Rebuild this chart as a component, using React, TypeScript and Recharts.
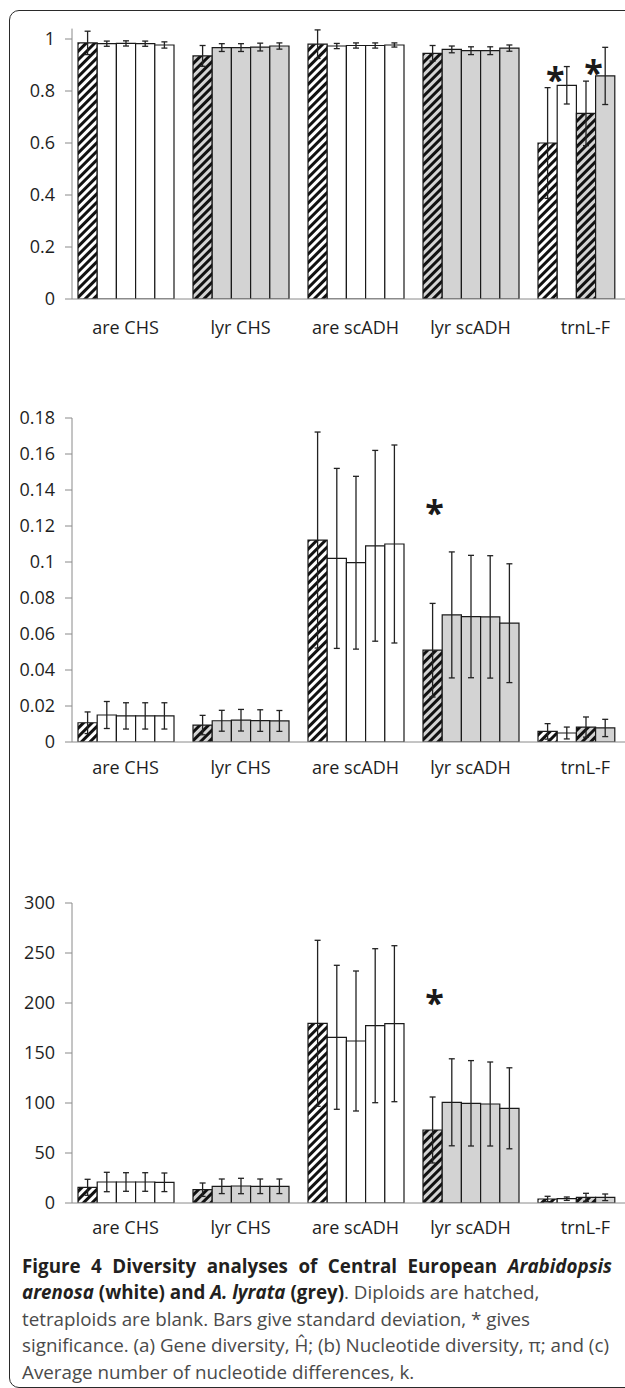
import React from 'react';
import { BarChart, Bar, XAxis, YAxis, ErrorBar, Cell, LabelList } from 'recharts';

type Num = number | null;

const CATEGORIES = ['are CHS', 'lyr CHS', 'are scADH', 'lyr scADH', 'trnL-F'];

// species of each bar slot per category (are = white, lyr = grey)
const SPECIES = [
  ['are', 'are', 'are', 'are', 'are'],
  ['lyr', 'lyr', 'lyr', 'lyr', 'lyr'],
  ['are', 'are', 'are', 'are', 'are'],
  ['lyr', 'lyr', 'lyr', 'lyr', 'lyr'],
  ['are', 'are', 'lyr', 'lyr', ''],
];
// diploid slots are drawn hatched
const DIPLOID = [
  [1, 0, 0, 0, 0],
  [1, 0, 0, 0, 0],
  [1, 0, 0, 0, 0],
  [1, 0, 0, 0, 0],
  [1, 0, 1, 0, 0],
];

// (a) gene diversity
const H1: Num[] = [0.985, 0.935, 0.98, 0.945, 0.6];
const H2: Num[] = [0.982, 0.967, 0.973, 0.96, 0.822];
const H3: Num[] = [0.983, 0.967, 0.975, 0.955, 0.714];
const H4: Num[] = [0.982, 0.969, 0.975, 0.955, 0.858];
const H5: Num[] = [0.977, 0.973, 0.977, 0.965, null];
const H_SD1: Num[] = [0.045, 0.04, 0.055, 0.03, 0.213];
const H_SD2: Num[] = [0.01, 0.015, 0.01, 0.013, 0.072];
const H_SD3: Num[] = [0.01, 0.015, 0.01, 0.015, 0.124];
const H_SD4: Num[] = [0.01, 0.015, 0.01, 0.015, 0.11];
const H_SD5: Num[] = [0.012, 0.012, 0.008, 0.012, null];
const H_STAR1: Num[] = [null, null, null, null, 0.86];
const H_STAR3: Num[] = [null, null, null, null, 0.89];

// (b) nucleotide diversity
const P1: Num[] = [0.0107, 0.0094, 0.1122, 0.051, 0.0059];
const P2: Num[] = [0.015, 0.0118, 0.102, 0.0706, 0.005];
const P3: Num[] = [0.0145, 0.0121, 0.0996, 0.0697, 0.0083];
const P4: Num[] = [0.0145, 0.0119, 0.109, 0.0695, 0.0078];
const P5: Num[] = [0.0145, 0.0117, 0.11, 0.066, null];
const P_SD1: Num[] = [0.006, 0.0054, 0.06, 0.026, 0.0043];
const P_SD2: Num[] = [0.0075, 0.0058, 0.05, 0.035, 0.0033];
const P_SD3: Num[] = [0.0073, 0.006, 0.048, 0.034, 0.0056];
const P_SD4: Num[] = [0.0073, 0.006, 0.053, 0.034, 0.0048];
const P_SD5: Num[] = [0.0073, 0.0058, 0.055, 0.033, null];
const P_STAR1: Num[] = [null, null, null, 0.13, null];

// (c) average number of nucleotide differences
const K1: Num[] = [15.7, 13.3, 179.7, 73, 4];
const K2: Num[] = [21, 16.7, 165.7, 100.7, 4.3];
const K3: Num[] = [21, 17, 162, 99.7, 5.7];
const K4: Num[] = [21, 16.7, 177.3, 99, 5.7];
const K5: Num[] = [20.7, 16.7, 179.3, 94.7, null];
const K_SD1: Num[] = [8, 6.7, 83, 33, 2.7];
const K_SD2: Num[] = [9.7, 7.3, 72, 43.5, 1.7];
const K_SD3: Num[] = [9.3, 7.7, 70, 42.7, 4];
const K_SD4: Num[] = [9.3, 7.3, 77, 42, 3.3];
const K_SD5: Num[] = [9.3, 7.3, 78, 40.5, null];
const K_STAR1: Num[] = [null, null, null, 205, null];

const NO_STAR: Num[] = [null, null, null, null, null];

const H_TICKS = [0, 0.2, 0.4, 0.6, 0.8, 1];
const P_TICKS = [0, 0.02, 0.04, 0.06, 0.08, 0.1, 0.12, 0.14, 0.16, 0.18];
const K_TICKS = [0, 50, 100, 150, 200, 250, 300];

const GREY = '#d3d3d3';
const AXIS = '#8a8a8a';
const FONT = '"Open Sans", sans-serif';
const XAXIS_H = 30;
const TICK_FONT = 18;

function buildRows(vals: Num[][], sds: Num[][], stars: Num[][]) {
  return CATEGORIES.map((cat, i) => {
    const row: Record<string, any> = { cat };
    vals.forEach((v, s) => {
      row[`v${s}`] = v[i];
      row[`e${s}`] = sds[s][i];
      row[`st${s}`] = stars[s][i];
    });
    return row;
  });
}

function fillFor(id: string, cat: number, slot: number) {
  const sp = SPECIES[cat][slot];
  const hatched = DIPLOID[cat][slot] === 1;
  if (sp === 'lyr') return hatched ? `url(#${id}-hl)` : GREY;
  return hatched ? `url(#${id}-ha)` : '#ffffff';
}

interface PanelProps {
  id: string;
  top: number;
  height: number;
  plotTop: number;
  plotBottom: number;
  vals: Num[][];
  sds: Num[][];
  stars: Num[][];
  domain: [number, number];
  ticks: number[];
  labelGap: number;
  starAtEdge?: boolean;
}

function Panel({ id, top, height, plotTop, plotBottom, vals, sds, stars, domain, ticks, labelGap, starAtEdge }: PanelProps) {
  const rows = buildRows(vals, sds, stars);

  const starRenderer = (s: number) => (props: any) => {
    const idx = props.index;
    const star = stars[s][idx];
    const val = vals[s][idx];
    if (star == null || val == null) return null;
    const vb = props.viewBox ?? props;
    const { x, y, width, height: h } = vb;
    const base = y + h;
    const sy = base - (star / val) * h;
    const cx = starAtEdge ? x + width - 2 : x + width / 2 + 2;
    return (
      <text key={`star-${s}-${idx}`} x={cx} y={sy + 17} textAnchor="middle" fontSize={34} fontWeight={700} fontFamily={FONT} fill="#1a1a1a">
        *
      </text>
    );
  };

  return (
    <div style={{ position: 'absolute', left: 0, top }}>
      <BarChart
        width={645}
        height={height}
        data={rows}
        margin={{ top: plotTop, right: 2, bottom: height - plotBottom - XAXIS_H, left: 0 }}
        barGap={0}
        barSize={19.2}
      >
        <defs>
          <pattern id={`${id}-ha`} patternUnits="userSpaceOnUse" width={6} height={6} patternTransform="rotate(45)">
            <rect width={6} height={6} fill="#ffffff" />
            <rect width={3} height={6} fill="#111111" />
          </pattern>
          <pattern id={`${id}-hl`} patternUnits="userSpaceOnUse" width={6} height={6} patternTransform="rotate(45)">
            <rect width={6} height={6} fill={GREY} />
            <rect width={3} height={6} fill="#111111" />
          </pattern>
        </defs>
        <XAxis
          dataKey="cat"
          height={XAXIS_H}
          interval={0}
          axisLine={{ stroke: AXIS }}
          tickLine={false}
          tickSize={0}
          tickMargin={labelGap}
          padding={{ left: -4, right: 0 }}
          tick={{ fontSize: TICK_FONT, fill: '#1e1e1e', fontFamily: FONT }}
        />
        <YAxis
          width={72}
          domain={domain}
          ticks={ticks}
          allowDataOverflow
          axisLine={{ stroke: AXIS }}
          tickLine={{ stroke: AXIS }}
          tickSize={7}
          tickMargin={10}
          tick={{ fontSize: TICK_FONT, fill: '#1e1e1e', fontFamily: FONT }}
        />
        {[0, 1, 2, 3, 4].map((s) => (
          <Bar key={s} dataKey={`v${s}`} stroke="#1a1a1a" strokeWidth={1.2} isAnimationActive={false}>
            {rows.map((_, i) => (
              <Cell key={i} fill={fillFor(id, i, s)} />
            ))}
            <ErrorBar dataKey={`e${s}`} width={3} stroke="#222" strokeWidth={1.3} isAnimationActive={false} />
            {stars[s].some((v) => v != null) && <LabelList dataKey={`st${s}`} content={starRenderer(s)} />}
          </Bar>
        ))}
      </BarChart>
    </div>
  );
}

function Caption() {
  const bold: React.CSSProperties = { fontWeight: 700, color: '#231f20' };
  const line: React.CSSProperties = { whiteSpace: 'nowrap' };
  return (
    <div
      style={{
        position: 'absolute',
        left: 22,
        top: 1253,
        width: 590,
        fontFamily: FONT,
        fontSize: 18.8,
        lineHeight: '26.4px',
        color: '#4a4a4a',
      }}
    >
      <div style={{ ...bold, ...line, textAlign: 'justify', textAlignLast: 'justify' }}>
        Figure 4 Diversity analyses of Central European <i>Arabidopsis</i>
      </div>
      <div style={line}>
        <span style={bold}>
          <i>arenosa</i> (white) and <i>A. lyrata</i> (grey)
        </span>
        . Diploids are hatched,
      </div>
      <div style={line}>tetraploids are blank. Bars give standard deviation, * gives</div>
      <div style={line}>significance. (a) Gene diversity, Ĥ; (b) Nucleotide diversity, π; and (c)</div>
      <div style={line}>Average number of nucleotide differences, k.</div>
    </div>
  );
}

export default function App() {
  return (
    <div style={{ position: 'fixed', left: 0, top: 0, width: 625, height: 1388, overflow: 'hidden', background: '#fff' }}>
      <div
        style={{
          position: 'absolute',
          left: 9,
          top: 10,
          width: 700,
          height: 1376,
          border: '1.6px solid #2a2a2a',
          borderRadius: 10,
        }}
      />
      <Panel
        id="gd"
        top={0}
        height={345}
        plotTop={28.6}
        plotBottom={299}
        vals={[H1, H2, H3, H4, H5]}
        sds={[H_SD1, H_SD2, H_SD3, H_SD4, H_SD5]}
        stars={[H_STAR1, NO_STAR, H_STAR3, NO_STAR, NO_STAR]}
        domain={[0, 1.04]}
        ticks={H_TICKS}
        labelGap={22}
        starAtEdge
      />
      <Panel
        id="nd"
        top={380}
        height={408}
        plotTop={38}
        plotBottom={362}
        vals={[P1, P2, P3, P4, P5]}
        sds={[P_SD1, P_SD2, P_SD3, P_SD4, P_SD5]}
        stars={[P_STAR1, NO_STAR, NO_STAR, NO_STAR, NO_STAR]}
        domain={[0, 0.18]}
        ticks={P_TICKS}
        labelGap={19}
      />
      <Panel
        id="nk"
        top={860}
        height={390}
        plotTop={43}
        plotBottom={343}
        vals={[K1, K2, K3, K4, K5]}
        sds={[K_SD1, K_SD2, K_SD3, K_SD4, K_SD5]}
        stars={[K_STAR1, NO_STAR, NO_STAR, NO_STAR, NO_STAR]}
        domain={[0, 300]}
        ticks={K_TICKS}
        labelGap={18}
      />
      <Caption />
    </div>
  );
}
